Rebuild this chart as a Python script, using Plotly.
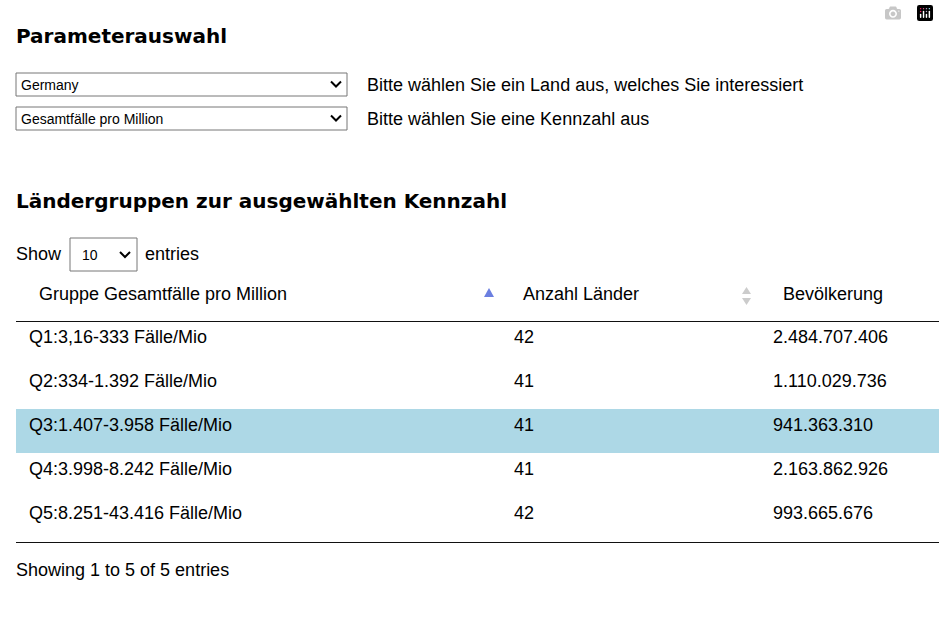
import plotly.graph_objects as go

W, H = 939, 636
header = ["Gruppe Gesamtfälle pro Million", "Anzahl Länder", "Bevölkerung"]
groups = ["Q1:3,16-333 Fälle/Mio", "Q2:334-1.392 Fälle/Mio", "Q3:1.407-3.958 Fälle/Mio",
          "Q4:3.998-8.242 Fälle/Mio", "Q5:8.251-43.416 Fälle/Mio"]
counts = [42, 41, 41, 41, 42]
population = ["2.484.707.406", "1.110.029.736", "941.363.310", "2.163.862.926", "993.665.676"]
highlight = 2
country = "Germany"
metric = "Gesamtfälle pro Million"

def fy(p):
    return 1 - p / H

fills = ["#add8e6" if i == highlight else "white" for i in range(len(groups))]
font = "Arial, 'Liberation Sans', sans-serif"

fig = go.Figure()
fig.add_trace(go.Table(
    domain=dict(x=[16 / W, 1], y=[fy(566), fy(278)]),
    columnwidth=[485, 259, 179],
    header=dict(values=["   " + h for h in header], align="left", height=43,
                fill_color="white", line_color="white",
                font=dict(family=font, size=18, color="black")),
    cells=dict(values=[[" " + g for g in groups], [" " + str(c) for c in counts], [" " + p for p in population]],
               align="left", height=44, fill_color=[fills, fills, fills], line_color=[fills, fills, fills],
               line_width=0,
               font=dict(family=font, size=18, color="black")),
))

shapes = [
    dict(type="line", x0=16, x1=939, y0=321.5, y1=321.5, line=dict(color="#111", width=1)),
    dict(type="line", x0=16, x1=939, y0=542.5, y1=542.5, line=dict(color="#111", width=1)),
]
for (x0, y0, x1, y1) in [(16, 73, 347, 96), (16, 107, 347, 130), (70, 238, 137, 271)]:
    shapes.append(dict(type="rect", x0=x0, y0=y0, x1=x1, y1=y1, line=dict(color="#767676", width=1),
                       fillcolor="white"))
for (cx, cy) in [(336, 84.5), (336, 118.5), (125, 255)]:
    shapes.append(dict(type="path", path=f"M{cx-5},{cy-3} L{cx},{cy+2} L{cx+5},{cy-3}",
                       line=dict(color="black", width=2)))
shapes.append(dict(type="path", path="M484,297 L494,297 L489,288 Z", fillcolor="#6b7fe0", line=dict(width=0)))
shapes.append(dict(type="path", path="M742,294 L751,294 L746.5,287 Z", fillcolor="#ccc", line=dict(width=0)))
shapes.append(dict(type="path", path="M742,298 L751,298 L746.5,305 Z", fillcolor="#ccc", line=dict(width=0)))

def ann(x, y, t, size=18, bold=False, fam=font):
    return dict(x=x, y=y, text=f"<b>{t}</b>" if bold else t, showarrow=False, xanchor="left",
                yanchor="middle", font=dict(family=fam, size=size, color="black"))

hfont = "'DejaVu Sans', Verdana, sans-serif"
annotations = [
    ann(14, 36, "Parameterauswahl", 20, True, hfont),
    ann(19, 84.5, country, 14),
    ann(19, 118.5, metric, 14),
    ann(365, 85, "Bitte wählen Sie ein Land aus, welches Sie interessiert"),
    ann(365, 119, "Bitte wählen Sie eine Kennzahl aus"),
    ann(14, 201, "Ländergruppen zur ausgewählten Kennzahl", 20, True, hfont),
    ann(14, 254, "Show"),
    ann(80, 255, "10", 14),
    ann(143, 254, "entries"),
    ann(14, 570, "Showing 1 to 5 of 5 entries", 18),
]
for a in annotations:
    a["xref"] = "x"; a["yref"] = "y"
for s in shapes:
    s["xref"] = "x"; s["yref"] = "y"

fig.update_layout(
    width=W, height=H, margin=dict(l=0, r=0, t=0, b=0),
    paper_bgcolor="white", plot_bgcolor="white",
    xaxis=dict(range=[0, W], visible=False, fixedrange=True),
    yaxis=dict(range=[H, 0], visible=False, fixedrange=True),
    shapes=shapes, annotations=annotations, showlegend=False,
)
fig.write_html("out.html", post_script="document.body.style.margin='0';document.body.style.overflow='hidden';")
